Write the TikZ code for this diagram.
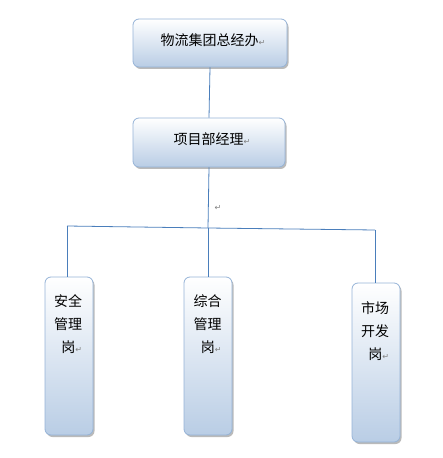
\documentclass[tikz,border=0pt]{standalone}
\usepackage{fontspec}
\newfontfamily\cjk{Noto Sans CJK SC}
\newfontfamily\symf{DejaVu Sans}
\usetikzlibrary{shadows}
\definecolor{boxline}{RGB}{149,179,215}
\definecolor{boxbot}{RGB}{185,205,229}
\definecolor{conn}{RGB}{74,126,187}
\definecolor{retgray}{RGB}{128,128,128}
\newcommand{\ret}{{\symf\fontsize{8bp}{8bp}\selectfont\color{retgray}↵}}
\tikzset{
  box/.style={draw=boxline, line width=0.8pt, rounded corners=6bp,
    top color=white, bottom color=boxbot, inner sep=0pt,
    drop shadow={shadow xshift=1.5bp, shadow yshift=-2bp, fill=black!45, opacity=0.6}},
  lbl/.style={font=\cjk\fontsize{14bp}{23bp}\selectfont, inner sep=0pt, text=black},
  conn/.style={draw=conn, line width=0.8pt}
}
\begin{document}
\begin{tikzpicture}[x=1bp,y=-1bp]
\useasboundingbox (0,0) rectangle (443,458);
% boxes
\node[box, minimum width=154bp, minimum height=48bp] (gm) at (210,43) {};
\node[lbl] (gmt) at (213,40) {物流集团总经办\ret};
\node[box, minimum width=152bp, minimum height=49bp] (pm) at (209,142.5) {};
\node[lbl] (pmt) at (212,139) {项目部经理\ret};
\node[box, minimum width=48bp, minimum height=158bp] (b1) at (69,356) {};
\node[box, minimum width=48bp, minimum height=158bp] (b2) at (208,356) {};
\node[box, minimum width=48bp, minimum height=159bp] (b3) at (376,362.5) {};
\node[lbl, align=right, anchor=north] (t1) at (68,294) {安全\\管理\\岗\ret};
\node[lbl, align=right, anchor=north] (t2) at (207.5,294) {综合\\管理\\岗\ret};
\node[lbl, align=right, anchor=north] (t3) at (375,301) {市场\\开发\\岗\ret};
\node[inner sep=0pt] (r) at (218,208) {\ret};
% connectors
\coordinate (L) at (67,226);
\coordinate (M) at (208,228);
\coordinate (R) at (375,230);
\draw[conn] (gm.south) -- (pm.north);
\draw[conn] (pm.south) -- (M);
\draw[conn] (L) -- (M) -- (R);
\draw[conn] (L) -- (L |- b1.north);
\draw[conn] (M) -- (b2.north);
\draw[conn] (R) -- (R |- b3.north);
\end{tikzpicture}
\end{document}
